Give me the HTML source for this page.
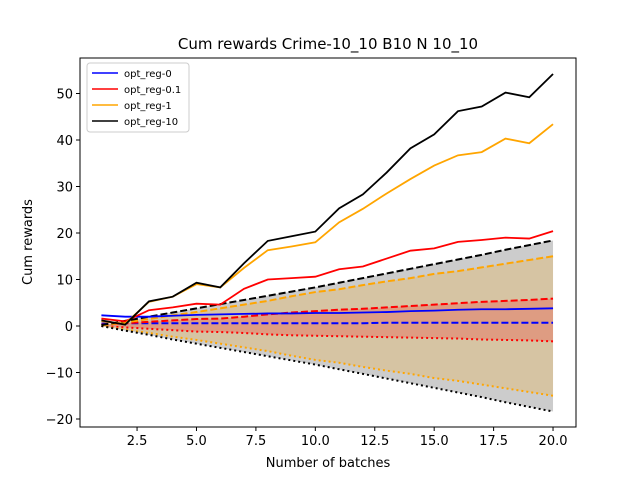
<!DOCTYPE html>
<html><head><meta charset="utf-8"><style>
body{margin:0;background:#fff;font-family:"Liberation Sans","DejaVu Sans",sans-serif}
</style></head><body>
<svg id="chart" width="640" height="480" xmlns="http://www.w3.org/2000/svg" font-family="DejaVu Sans, Liberation Sans, sans-serif">
<rect width="640" height="480" fill="#fff"/>
<text x="328" y="49" font-size="15" text-anchor="middle">Cum rewards Crime-10_10 B10 N 10_10</text>
<g id="fills"></g><g id="lines"></g><g id="axes"></g>
<text x="328" y="467" font-size="13" text-anchor="middle">Number of batches</text>
<text transform="translate(32,242) rotate(-90)" font-size="13" text-anchor="middle">Cum rewards</text>
<g>
<rect x="87" y="63" width="102" height="69" rx="3" fill="#fff" fill-opacity="0.8" stroke="#ccc"/>
<line x1="92" y1="73" x2="118" y2="73" stroke="blue" stroke-width="1.5"/><text x="124" y="77" font-size="10">opt_reg-0</text>
<line x1="92" y1="89" x2="118" y2="89" stroke="red" stroke-width="1.5"/><text x="124" y="93" font-size="10">opt_reg-0.1</text>
<line x1="92" y1="105" x2="118" y2="105" stroke="orange" stroke-width="1.5"/><text x="124" y="109" font-size="10">opt_reg-1</text>
<line x1="92" y1="121" x2="118" y2="121" stroke="black" stroke-width="1.5"/><text x="124" y="125" font-size="10">opt_reg-10</text>
</g>
</svg>
<script>
const batches=[1,2,3,4,5,6,7,8,9,10,11,12,13,14,15,16,17,18,19,20];
const blackMean=[1.2,0.3,5.3,6.3,9.3,8.3,13.5,18.3,19.3,20.3,25.3,28.3,33,38.2,41.2,46.2,47.2,50.2,49.2,54.2];
const orangeMean=[1.0,0.5,5.2,6.3,9.0,8.3,12.5,16.3,17.1,18,22.3,25.2,28.5,31.6,34.5,36.7,37.4,40.3,39.3,43.4];
const redMean=[1.6,1.0,3.4,4.0,4.8,4.6,8.0,10.0,10.3,10.6,12.2,12.8,14.5,16.2,16.7,18.1,18.5,19.0,18.8,20.4];
const blueMean=[2.3,2.0,2.0,2.2,2.4,2.5,2.6,2.7,2.7,2.8,2.8,2.9,3.0,3.2,3.3,3.5,3.6,3.6,3.7,3.8];
const blackUp=[0.2,1.1,2.0,2.9,3.8,4.7,5.6,6.5,7.4,8.3,9.3,10.3,11.3,12.3,13.3,14.3,15.3,16.4,17.4,18.4];
const blackLo=[0.0,-1.0,-1.9,-2.9,-3.8,-4.7,-5.6,-6.5,-7.4,-8.3,-9.3,-10.3,-11.3,-12.3,-13.3,-14.3,-15.3,-16.4,-17.4,-18.4];
const orangeUp=[0.1,0.8,1.5,2.3,3.0,3.8,4.6,5.4,6.4,7.3,7.9,8.8,9.6,10.3,11.2,11.8,12.6,13.4,14.2,15.0];
const orangeLo=[0.0,-0.8,-1.5,-2.3,-3.0,-3.8,-4.6,-5.4,-6.4,-7.3,-7.9,-8.8,-9.6,-10.3,-11.2,-11.8,-12.6,-13.4,-14.2,-15.0];
const redUp=[0.3,0.6,0.9,1.2,1.5,1.6,2.0,2.5,2.9,3.2,3.5,3.7,4.0,4.3,4.6,4.9,5.2,5.4,5.6,5.9];
const redLo=[0.0,-0.3,-0.6,-0.9,-1.2,-1.3,-1.5,-1.8,-2.0,-2.1,-2.2,-2.3,-2.4,-2.5,-2.6,-2.7,-2.9,-3.0,-3.1,-3.3];
const blueUp=[0.5,0.6,0.6,0.6,0.6,0.6,0.6,0.6,0.6,0.6,0.6,0.6,0.7,0.7,0.7,0.7,0.7,0.7,0.7,0.7];
const blueLo=[0.5,0.6,0.6,0.6,0.6,0.6,0.6,0.6,0.6,0.6,0.6,0.6,0.7,0.7,0.7,0.7,0.7,0.7,0.7,0.7];
const xTicks=[2.5,5.0,7.5,10.0,12.5,15.0,17.5,20.0];
const yTicks=[-20,-10,0,10,20,30,40,50];
const L=80,R=576,T=58,B=427;
const sx=v=>101.4+(v-1)*23.77;
const sy=v=>326-v*4.65;
const NS="http://www.w3.org/2000/svg";
function mk(tag,attrs,parent){const e=document.createElementNS(NS,tag);for(const k in attrs)e.setAttribute(k,attrs[k]);document.getElementById(parent).appendChild(e);return e;}
const pts=a=>a.map((v,i)=>sx(batches[i])+","+sy(v)).join(" ");
const series=[["black",blackMean,blackUp,blackLo,"black"],["orange",orangeMean,orangeUp,orangeLo,"orange"],["red",redMean,redUp,redLo,"red"],["blue",blueMean,blueUp,blueLo,"blue"]];
series.forEach(s=>{
  const f=mk("polygon",{points:pts(s[2])+" "+s[3].map((v,i)=>sx(batches[i])+","+sy(v)).reverse().join(" "),fill:s[4],"fill-opacity":0.2},"fills");
  
  
});
series.slice().reverse().forEach(s=>{
  if(s[0]!=="blue"){
    const lo=mk("polyline",{points:pts(s[3]),fill:"none",stroke:s[4],"stroke-width":2,"stroke-dasharray":"2,3"},"lines");
    
    
  }
  const up=mk("polyline",{points:pts(s[2]),fill:"none",stroke:s[4],"stroke-width":2,"stroke-dasharray":"7,3"},"lines");
  
  
});
series.slice().reverse().forEach(s=>{
  const m=mk("polyline",{points:pts(s[1]),fill:"none",stroke:s[4],"stroke-width":1.8},"lines");
  
  
});
const fr=mk("rect",{x:L,y:T,width:R-L,height:B-T,fill:"none",stroke:"#000","stroke-width":1},"axes");


xTicks.forEach(t=>{
  mk("line",{x1:sx(t),x2:sx(t),y1:B,y2:B+4,stroke:"#000"},"axes");
  const tx=mk("text",{x:sx(t),y:B+18,"font-size":13,"text-anchor":"middle"},"axes");
  tx.textContent=t.toFixed(1);
  
  
});
yTicks.forEach(t=>{
  mk("line",{x1:L-4,x2:L,y1:sy(t),y2:sy(t),stroke:"#000"},"axes");
  const tx=mk("text",{x:L-7,y:sy(t)+5,"font-size":13,"text-anchor":"end"},"axes");
  tx.textContent=t<0?"\u2212"+(-t):t;
  
  
});
</script>
</body></html>
